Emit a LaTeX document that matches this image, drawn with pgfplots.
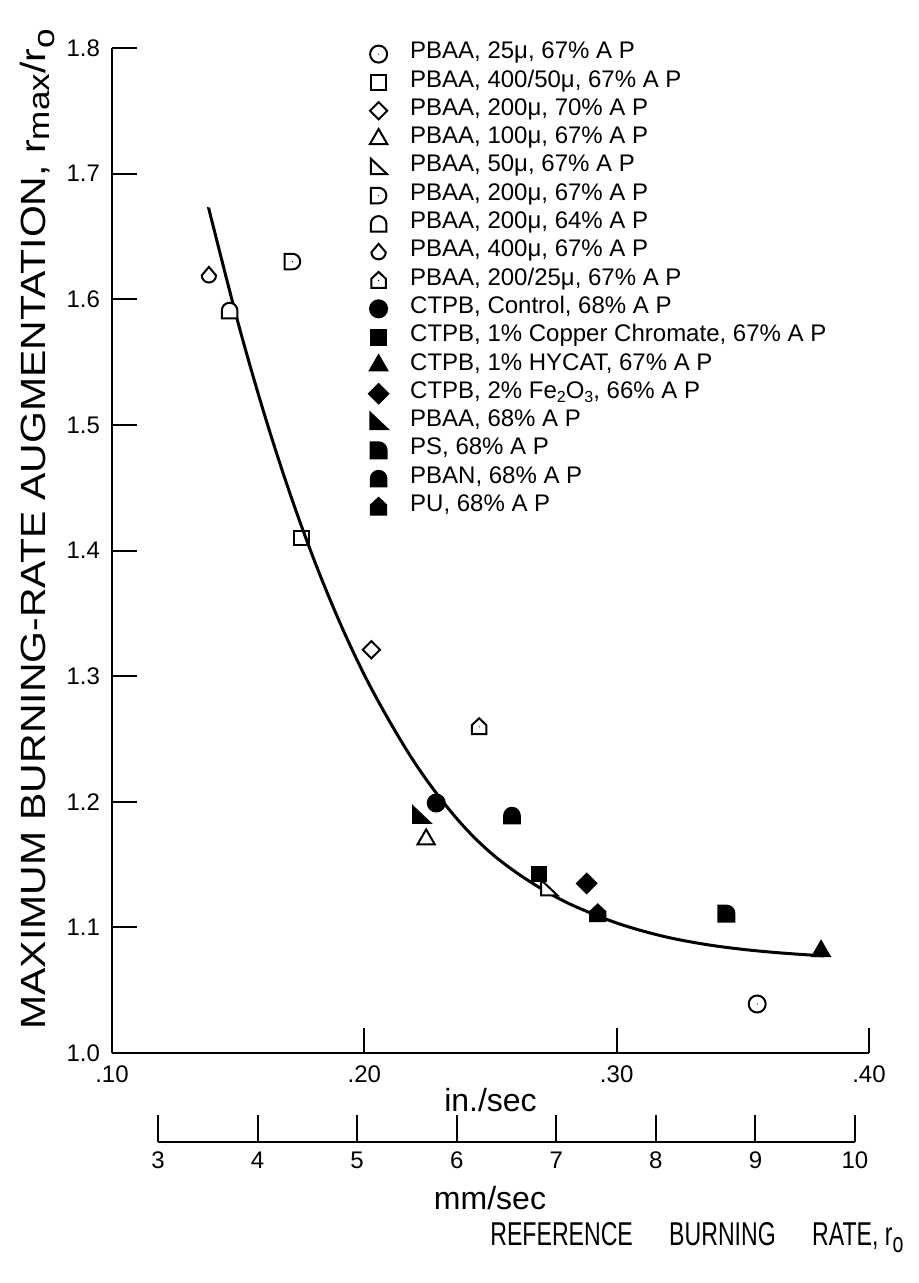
\documentclass[border=0pt]{standalone}
\usepackage{fontspec}
\setmainfont{Liberation Sans}
\usepackage{pgfplots}
\pgfplotsset{compat=1.18}
\usetikzlibrary{plotmarks}

\newcommand{\centerdot}{\pgfscope\pgfsetfillcolor{black}\pgfpathcircle{\pgfpointorigin}{0.35pt}\pgfusepathqfill\endpgfscope}
\pgfdeclareplotmark{odot}{%
  \pgfpathcircle{\pgfpointorigin}{\pgfplotmarksize}\pgfusepathqfillstroke\centerdot}
\pgfdeclareplotmark{rdiamond}{%
  \pgfpathmoveto{\pgfqpoint{0pt}{\pgfplotmarksize}}%
  \pgfpathlineto{\pgfqpoint{\pgfplotmarksize}{0pt}}%
  \pgfpathlineto{\pgfqpoint{0pt}{-\pgfplotmarksize}}%
  \pgfpathlineto{\pgfqpoint{-\pgfplotmarksize}{0pt}}%
  \pgfpathclose\pgfusepathqfillstroke}
\pgfdeclareplotmark{rtri}{%
  \pgfpathmoveto{\pgfqpoint{-0.9\pgfplotmarksize}{\pgfplotmarksize}}%
  \pgfpathlineto{\pgfqpoint{-0.9\pgfplotmarksize}{-0.8\pgfplotmarksize}}%
  \pgfpathlineto{\pgfqpoint{\pgfplotmarksize}{-0.8\pgfplotmarksize}}%
  \pgfpathclose\pgfusepathqfillstroke}
\pgfdeclareplotmark{dshape}{%
  \pgfpathmoveto{\pgfqpoint{0pt}{\pgfplotmarksize}}%
  \pgfpathlineto{\pgfqpoint{-\pgfplotmarksize}{\pgfplotmarksize}}%
  \pgfpathlineto{\pgfqpoint{-\pgfplotmarksize}{-\pgfplotmarksize}}%
  \pgfpathlineto{\pgfqpoint{0pt}{-\pgfplotmarksize}}%
  \pgfpatharc{-90}{90}{\pgfplotmarksize}%
  \pgfpathclose\pgfusepathqfillstroke\centerdot}
\pgfdeclareplotmark{quarter}{%
  \pgfpathmoveto{\pgfqpoint{-\pgfplotmarksize}{-\pgfplotmarksize}}%
  \pgfpathlineto{\pgfqpoint{-\pgfplotmarksize}{\pgfplotmarksize}}%
  \pgfpathlineto{\pgfqpoint{0pt}{\pgfplotmarksize}}%
  \pgfpatharc{90}{0}{\pgfplotmarksize}%
  \pgfpathlineto{\pgfqpoint{\pgfplotmarksize}{-\pgfplotmarksize}}%
  \pgfpathclose\pgfusepathqfillstroke}
\pgfdeclareplotmark{dome}{%
  \pgfpathmoveto{\pgfqpoint{-\pgfplotmarksize}{-\pgfplotmarksize}}%
  \pgfpathlineto{\pgfqpoint{-\pgfplotmarksize}{0pt}}%
  \pgfpatharc{180}{0}{\pgfplotmarksize}%
  \pgfpathlineto{\pgfqpoint{\pgfplotmarksize}{-\pgfplotmarksize}}%
  \pgfpathclose\pgfusepathqfillstroke}
\pgfdeclareplotmark{rbdiamond}{%
  \pgfpathmoveto{\pgfqpoint{0pt}{\pgfplotmarksize}}%
  \pgfpathlineto{\pgfqpoint{0.85\pgfplotmarksize}{0pt}}%
  \pgfpatharc{0}{-180}{0.85\pgfplotmarksize}%
  \pgfpathclose\pgfusepathqfillstroke}
\pgfdeclareplotmark{house}{%
  \pgfpathmoveto{\pgfqpoint{-0.85\pgfplotmarksize}{-0.85\pgfplotmarksize}}%
  \pgfpathlineto{\pgfqpoint{-0.85\pgfplotmarksize}{0.2\pgfplotmarksize}}%
  \pgfpathlineto{\pgfqpoint{0pt}{\pgfplotmarksize}}%
  \pgfpathlineto{\pgfqpoint{0.85\pgfplotmarksize}{0.2\pgfplotmarksize}}%
  \pgfpathlineto{\pgfqpoint{0.85\pgfplotmarksize}{-0.85\pgfplotmarksize}}%
  \pgfpathclose\pgfusepathqfillstroke}
\pgfdeclareplotmark{housedot}{%
  \pgfuseplotmark{house}\centerdot}

\newcommand{\sub}[1]{\raisebox{-0.35ex}{\fontsize{8}{9}\selectfont #1}}

\pgfplotsset{
  om/.style={only marks, mark options={solid, line width=1pt, fill=white, draw=black}},
  fm/.style={only marks, mark options={solid, line width=1pt, fill=black, draw=black}},
}

\begin{document}
\begin{tikzpicture}
\begin{axis}[
  at={(0pt,0pt)}, anchor=south west,
  scale only axis, width=378.5pt, height=502.5pt,
  xmin=0.10, xmax=0.40, ymin=1.0, ymax=1.8,
  axis x line*=bottom, axis y line*=left,
  axis line style={line width=1pt},
  xtick={0.1,0.2,0.3,0.4}, xticklabels={.10,.20,.30,.40},
  ytick={1.0,1.1,1.2,1.3,1.4,1.5,1.6,1.7,1.8},
  yticklabels={1.0,1.1,1.2,1.3,1.4,1.5,1.6,1.7,1.8},
  tick align=inside, major tick length=12.5pt,
  tick style={line width=1pt, black},
  minor tick num=0,
  ticklabel style={font=\fontsize{12}{14}\selectfont},
  xticklabel style={yshift=-3pt},
  yticklabel style={xshift=-2.5pt},
  xlabel={in./sec},
  xlabel style={font=\fontsize{16}{18}\selectfont, at={(axis description cs:0.5,0)}, anchor=center, yshift=-23.5pt},
  clip=false,
  legend cell align=left,
  legend style={at={(axis description cs:0.3395,1.008)}, anchor=north west, draw=none, fill=none,
    inner sep=0pt, outer sep=0pt, column sep=11pt, row sep=0pt,
    font=\fontsize{12}{14}\selectfont,
    nodes={inner sep=0pt, text height=9.4pt, text depth=4.75pt}},
]
\addplot[smooth, tension=0.6, line width=1.5pt, black, forget plot] coordinates {
(0.1383,1.673) (0.14,1.659) (0.15,1.581) (0.16,1.511) (0.17,1.4485) (0.18,1.393)
(0.19,1.344) (0.20,1.301) (0.21,1.264) (0.22,1.231) (0.23,1.203) (0.24,1.179)
(0.25,1.1595) (0.26,1.144) (0.27,1.131) (0.28,1.120) (0.29,1.1112) (0.30,1.1035)
(0.31,1.0973) (0.32,1.0922) (0.33,1.0882) (0.34,1.0850) (0.35,1.0825) (0.36,1.0805)
(0.37,1.0789) (0.382,1.0773)};

\addplot[om, mark=odot, mark size=4.25pt] coordinates {(0.3557,1.039)};
\addlegendentry{PBAA, 25μ, 67\% A P}
\addplot[om, mark=square, mark size=3.6pt] coordinates {(0.1751,1.41)};
\addlegendentry{PBAA, 400/50μ, 67\% A P}
\addplot[om, mark=rdiamond, mark size=4.3pt] coordinates {(0.2028,1.321)};
\addlegendentry{PBAA, 200μ, 70\% A P}
\addplot[om, mark=triangle, mark size=5pt] coordinates {(0.2245,1.170)};
\addlegendentry{PBAA, 100μ, 67\% A P}
\addplot[om, mark=rtri, mark size=4.3pt] coordinates {(0.2731,1.131)};
\addlegendentry{PBAA, 50μ, 67\% A P}
\addplot[om, mark=dshape, mark size=3.9pt] coordinates {(0.1715,1.630)};
\addlegendentry{PBAA, 200μ, 67\% A P}
\addplot[om, mark=dome, mark size=3.9pt] coordinates {(0.1466,1.591)};
\addlegendentry{PBAA, 200μ, 64\% A P}
\addplot[om, mark=rbdiamond, mark size=4.2pt] coordinates {(0.1384,1.619)};
\addlegendentry{PBAA, 400μ, 67\% A P}
\addplot[om, mark=housedot, mark size=4.3pt] coordinates {(0.2455,1.2596)};
\addlegendentry{PBAA, 200/25μ, 67\% A P}
\addplot[fm, mark=*, mark size=4.25pt] coordinates {(0.2285,1.199)};
\addlegendentry{CTPB, Control, 68\% A P}
\addplot[fm, mark=square*, mark size=3.7pt] coordinates {(0.2692,1.1425)};
\addlegendentry{CTPB, 1\% Copper Chromate, 67\% A P}
\addplot[fm, mark=triangle*, mark size=5pt] coordinates {(0.3810,1.081)};
\addlegendentry{CTPB, 1\% HYCAT, 67\% A P}
\addplot[fm, mark=rdiamond, mark size=4.8pt] coordinates {(0.2881,1.135)};
\addlegendentry{CTPB, 2\% Fe\sub{2}O\sub{3}, 66\% A P}
\addplot[fm, mark=rtri, mark size=4.5pt] coordinates {(0.2225,1.189)};
\addlegendentry{PBAA, 68\% A P}
\addplot[fm, mark=quarter, mark size=4pt] coordinates {(0.3435,1.111)};
\addlegendentry{PS, 68\% A P}
\addplot[fm, mark=dome, mark size=3.9pt] coordinates {(0.2585,1.189)};
\addlegendentry{PBAN, 68\% A P}
\addplot[fm, mark=house, mark size=4.5pt] coordinates {(0.2925,1.111)};
\addlegendentry{PU, 68\% A P}
\end{axis}

\begin{axis}[
  at={(23pt,-44.5pt)}, anchor=south west,
  scale only axis, width=348.5pt, height=10pt,
  xmin=3, xmax=10, ymin=0, ymax=1,
  axis x line*=bottom, axis y line=none, ytick=\empty,
  axis line style={line width=1pt},
  xtick={3,4,5,6,7,8,9,10}, xticklabels={3,4,5,6,7,8,9,10},
  tick align=inside, major tick length=13.5pt,
  tick style={line width=1pt, black},
  minor tick num=0,
  ticklabel style={font=\fontsize{12}{14}\selectfont},
  xticklabel style={yshift=-1.5pt},
  xlabel={mm/sec},
  xlabel style={font=\fontsize{16}{18}\selectfont, at={(axis description cs:0.5,0)}, anchor=center, yshift=-28pt, xshift=-8.25pt},
]
\addplot[draw=none, forget plot] coordinates {(3,0) (10,0)};
\end{axis}

\node[anchor=base west, inner sep=0pt] at (189pt,-96pt)
  {\fontsize{16.5}{18}\selectfont\scalebox{0.7}[1]{REFERENCE\hspace{26pt}BURNING\hspace{26pt}RATE, r\raisebox{-0.45ex}{\fontsize{14}{16}\selectfont o}}};
\node[anchor=base west, inner sep=0pt, rotate=90] at (-33.5pt,11.5pt)
  {\fontsize{17.5}{20}\selectfont\scalebox{1.17}[1]{MAXIMUM BURNING-RATE AUGMENTATION, r\raisebox{-0.25ex}{\fontsize{15}{17}\selectfont max}/r\raisebox{-0.5ex}{\fontsize{15}{17}\selectfont o}}};

\pgfresetboundingbox
\path[use as bounding box] (-56pt,-115pt) rectangle (403.5pt,526.5pt);
\end{tikzpicture}
\end{document}
